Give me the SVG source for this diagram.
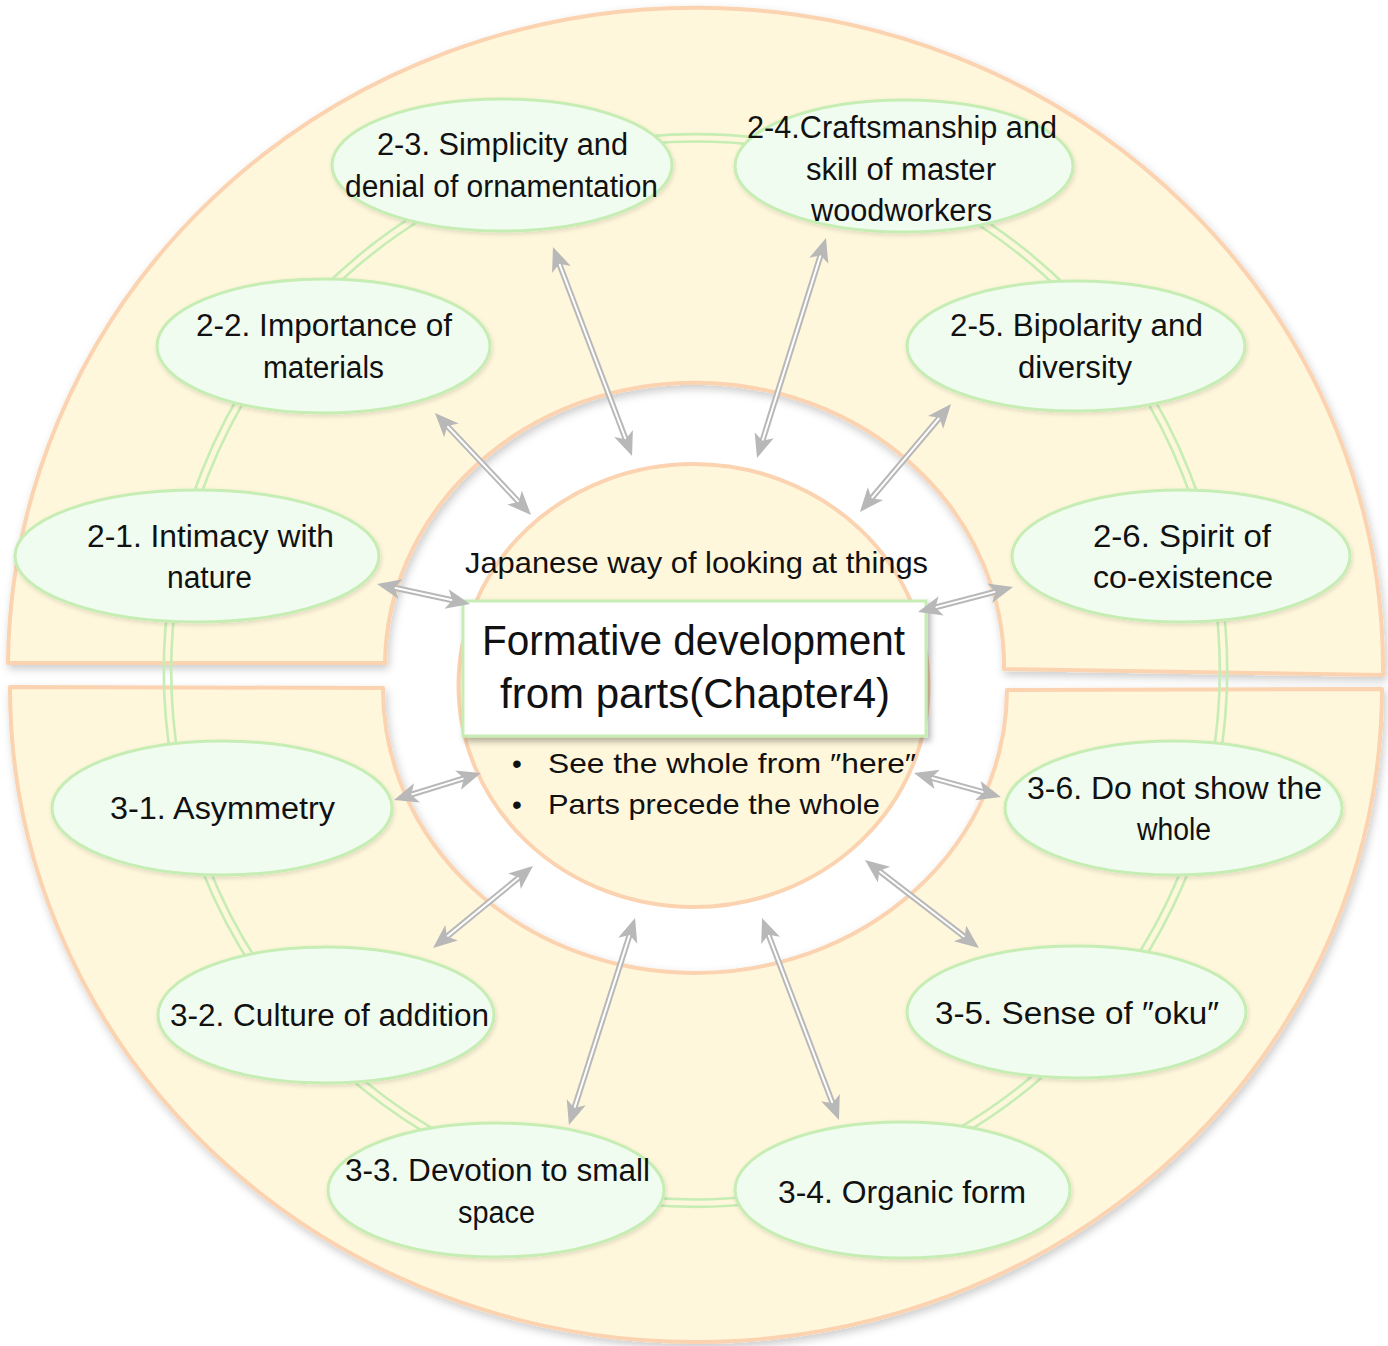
<svg xmlns="http://www.w3.org/2000/svg" width="1388" height="1346" viewBox="0 0 1388 1346">
  <defs>
    <style>
      .blk { fill: #FFF7DB; stroke: #FBD3B0; stroke-width: 4; stroke-linejoin: round; filter: url(#sh); }
      .core { fill: #FFF7DB; stroke: #FBD3B0; stroke-width: 4; }
      .ring { fill: none; stroke: #C6EDB4; stroke-width: 2.6; }
      .node ellipse { fill: #F1FCF0; stroke: #C6EDB4; stroke-width: 3; filter: url(#nsh); }
      .box { fill: #FFFFFF; stroke: #C6EDB4; stroke-width: 3; filter: url(#bsh); }
      text { font-family: "Liberation Sans", Arial, sans-serif; fill: #111111; }
      .lbl { font-size: 31px; text-anchor: middle; }
      .ttl { font-size: 42px; text-anchor: middle; }
      .sub { font-size: 30px; text-anchor: middle; }
      .bul { font-size: 28px; }
      .shaft { fill: none; stroke: #B8B8B8; stroke-width: 6; }
      .gap { fill: none; stroke: #FFFFFF; stroke-width: 2; }
      .head { fill: none; stroke: none; marker-start: url(#ah); marker-end: url(#ah); }
    </style>
    <filter id="sh" x="-5%" y="-5%" width="110%" height="115%">
      <feDropShadow dx="2" dy="4" stdDeviation="4" flood-color="#000" flood-opacity="0.2"/>
    </filter>
    <filter id="nsh" x="-10%" y="-10%" width="120%" height="130%">
      <feDropShadow dx="1" dy="2" stdDeviation="2" flood-color="#000" flood-opacity="0.12"/>
    </filter>
    <filter id="bsh" x="-10%" y="-10%" width="120%" height="130%">
      <feDropShadow dx="3" dy="4" stdDeviation="3" flood-color="#000" flood-opacity="0.3"/>
    </filter>
    <marker id="ah" markerUnits="userSpaceOnUse" viewBox="-14 -12 28 24" refX="0" refY="0" markerWidth="28" markerHeight="24" orient="auto-start-reverse" overflow="visible">
      <path d="M12,0 L-12,-10 L-6,0 L-12,10 Z" fill="#B8B8B8"/>
    </marker>
  </defs>

  <rect width="1388" height="1346" fill="#FFFFFF"/>

  <!-- two half-ring bands -->
  <g id="band-top">
    <path class="blk" d="M8,663 A687,661 0 0 1 1383,675 L1004,669 A309,283 0 0 0 385,663 Z"/>
  </g>
  <g id="band-bottom">
    <path class="blk" d="M10,687 L383,688 A312,284 0 0 0 1007,690 L1382,689 A685,653 0 0 1 10,687 Z"/>
  </g>

  <!-- double ring linking the outer nodes -->
  <g id="ring">
    <ellipse class="ring" cx="695.5" cy="670.5" rx="524.3" ry="529"/>
    <ellipse class="ring" cx="695.5" cy="670.5" rx="531.7" ry="536.4"/>
  </g>

  <!-- core -->
  <g id="core">
    <ellipse class="core" cx="693.5" cy="685.5" rx="235" ry="221.5"/>
    <text class="sub" x="696.5" y="573" textLength="463" lengthAdjust="spacingAndGlyphs">Japanese way of looking at things</text>
    <rect class="box" x="463" y="601" width="463" height="135"/>
    <text class="ttl" x="693.5" y="655" textLength="423" lengthAdjust="spacingAndGlyphs">Formative development</text>
    <text class="ttl" x="695" y="708" textLength="390" lengthAdjust="spacingAndGlyphs">from parts(Chapter4)</text>
    <text class="bul" x="517" y="773" text-anchor="middle">•</text>
    <text class="bul" x="548" y="773" textLength="368" lengthAdjust="spacingAndGlyphs">See the whole from ″here″</text>
    <text class="bul" x="517" y="814" text-anchor="middle">•</text>
    <text class="bul" x="548" y="814" textLength="332" lengthAdjust="spacingAndGlyphs">Parts precede the whole</text>
  </g>

  <!-- outer nodes -->
  <g id="n2-1" class="node">
    <ellipse cx="197" cy="556" rx="182" ry="66"/>
    <text class="lbl" x="210.5" y="547" textLength="247" lengthAdjust="spacingAndGlyphs">2-1. Intimacy with</text>
    <text class="lbl" x="209.5" y="588" textLength="85" lengthAdjust="spacingAndGlyphs">nature</text>
  </g>
  <g id="n2-2" class="node">
    <ellipse cx="323.5" cy="346" rx="166.5" ry="67"/>
    <text class="lbl" x="324" y="336" textLength="256" lengthAdjust="spacingAndGlyphs">2-2. Importance of</text>
    <text class="lbl" x="323.5" y="378" textLength="121" lengthAdjust="spacingAndGlyphs">materials</text>
  </g>
  <g id="n2-3" class="node">
    <ellipse cx="502" cy="165" rx="170" ry="66"/>
    <text class="lbl" x="502.5" y="155" textLength="251" lengthAdjust="spacingAndGlyphs">2-3. Simplicity and</text>
    <text class="lbl" x="501.5" y="197" textLength="313" lengthAdjust="spacingAndGlyphs">denial of ornamentation</text>
  </g>
  <g id="n2-4" class="node">
    <ellipse cx="904" cy="166" rx="169" ry="66"/>
    <text class="lbl" x="902" y="138" textLength="310" lengthAdjust="spacingAndGlyphs">2-4.Craftsmanship and</text>
    <text class="lbl" x="901" y="180" textLength="190" lengthAdjust="spacingAndGlyphs">skill of master</text>
    <text class="lbl" x="901.5" y="221" textLength="181" lengthAdjust="spacingAndGlyphs">woodworkers</text>
  </g>
  <g id="n2-5" class="node">
    <ellipse cx="1076" cy="346" rx="169" ry="65"/>
    <text class="lbl" x="1076.5" y="336" textLength="253" lengthAdjust="spacingAndGlyphs">2-5. Bipolarity and</text>
    <text class="lbl" x="1075" y="378" textLength="114" lengthAdjust="spacingAndGlyphs">diversity</text>
  </g>
  <g id="n2-6" class="node">
    <ellipse cx="1181" cy="556" rx="169" ry="66"/>
    <text class="lbl" x="1182" y="547" textLength="178" lengthAdjust="spacingAndGlyphs">2-6. Spirit of</text>
    <text class="lbl" x="1183" y="588" textLength="180" lengthAdjust="spacingAndGlyphs">co-existence</text>
  </g>
  <g id="n3-1" class="node">
    <ellipse cx="222" cy="808" rx="170" ry="67"/>
    <text class="lbl" x="222.5" y="819" textLength="225" lengthAdjust="spacingAndGlyphs">3-1. Asymmetry</text>
  </g>
  <g id="n3-2" class="node">
    <ellipse cx="326" cy="1015" rx="168" ry="68"/>
    <text class="lbl" x="329.5" y="1026" textLength="319" lengthAdjust="spacingAndGlyphs">3-2. Culture of addition</text>
  </g>
  <g id="n3-3" class="node">
    <ellipse cx="496" cy="1190" rx="168" ry="67"/>
    <text class="lbl" x="497.5" y="1181" textLength="305" lengthAdjust="spacingAndGlyphs">3-3. Devotion to small</text>
    <text class="lbl" x="496.5" y="1223" textLength="77" lengthAdjust="spacingAndGlyphs">space</text>
  </g>
  <g id="n3-4" class="node">
    <ellipse cx="902.5" cy="1190" rx="167.5" ry="68"/>
    <text class="lbl" x="902" y="1203" textLength="248" lengthAdjust="spacingAndGlyphs">3-4. Organic form</text>
  </g>
  <g id="n3-5" class="node">
    <ellipse cx="1076.5" cy="1012" rx="169.5" ry="66"/>
    <text class="lbl" x="1077" y="1024" textLength="284" lengthAdjust="spacingAndGlyphs">3-5. Sense of ″oku″</text>
  </g>
  <g id="n3-6" class="node">
    <ellipse cx="1173.5" cy="808" rx="168.5" ry="67"/>
    <text class="lbl" x="1174.5" y="799" textLength="295" lengthAdjust="spacingAndGlyphs">3-6. Do not show the</text>
    <text class="lbl" x="1174" y="840" textLength="74" lengthAdjust="spacingAndGlyphs">whole</text>
  </g>

  <!-- two-way connectors between the core and each node -->
  <g id="connectors">
    <g><path class="shaft" d="M557.2,258.2 L627.8,444.8"/><path class="gap" d="M557.2,258.2 L627.8,444.8"/><path class="head" d="M557.2,258.2 L627.8,444.8"/></g>
    <g><path class="shaft" d="M822.4,249.4 L760.6,446.6"/><path class="gap" d="M822.4,249.4 L760.6,446.6"/><path class="head" d="M822.4,249.4 L760.6,446.6"/></g>
    <g><path class="shaft" d="M443.2,421.7 L522.8,506.3"/><path class="gap" d="M443.2,421.7 L522.8,506.3"/><path class="head" d="M443.2,421.7 L522.8,506.3"/></g>
    <g><path class="shaft" d="M943.3,413.2 L867.7,502.8"/><path class="gap" d="M943.3,413.2 L867.7,502.8"/><path class="head" d="M943.3,413.2 L867.7,502.8"/></g>
    <g><path class="shaft" d="M388.7,586.5 L458.3,601.5"/><path class="gap" d="M388.7,586.5 L458.3,601.5"/><path class="head" d="M388.7,586.5 L458.3,601.5"/></g>
    <g><path class="shaft" d="M1001.4,590.1 L929.6,608.9"/><path class="gap" d="M1001.4,590.1 L929.6,608.9"/><path class="head" d="M1001.4,590.1 L929.6,608.9"/></g>
    <g><path class="shaft" d="M405.5,796.4 L469.5,776.6"/><path class="gap" d="M405.5,796.4 L469.5,776.6"/><path class="head" d="M405.5,796.4 L469.5,776.6"/></g>
    <g><path class="shaft" d="M989.4,793.8 L925.6,776.2"/><path class="gap" d="M989.4,793.8 L925.6,776.2"/><path class="head" d="M989.4,793.8 L925.6,776.2"/></g>
    <g><path class="shaft" d="M442.3,940.4 L523.7,873.6"/><path class="gap" d="M442.3,940.4 L523.7,873.6"/><path class="head" d="M442.3,940.4 L523.7,873.6"/></g>
    <g><path class="shaft" d="M969.5,940.7 L874.5,867.3"/><path class="gap" d="M969.5,940.7 L874.5,867.3"/><path class="head" d="M969.5,940.7 L874.5,867.3"/></g>
    <g><path class="shaft" d="M572.6,1113.6 L631.4,929.4"/><path class="gap" d="M572.6,1113.6 L631.4,929.4"/><path class="head" d="M572.6,1113.6 L631.4,929.4"/></g>
    <g><path class="shaft" d="M834.7,1108.8 L766.3,929.2"/><path class="gap" d="M834.7,1108.8 L766.3,929.2"/><path class="head" d="M834.7,1108.8 L766.3,929.2"/></g>
  </g>
</svg>
